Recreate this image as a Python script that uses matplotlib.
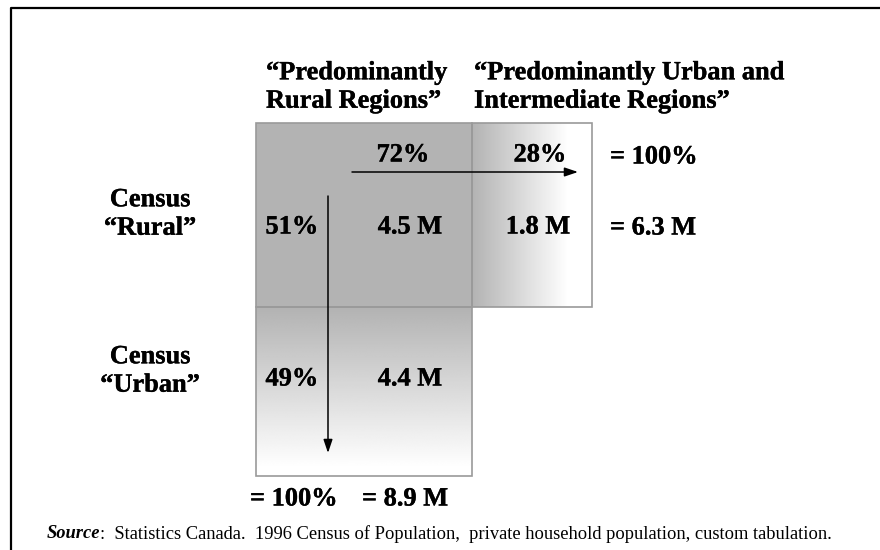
import numpy as np
import matplotlib
matplotlib.use('Agg')
from matplotlib import pyplot as plt
import matplotlib.patheffects as pe

# data
col_labels = ['\u201cPredominantly\nRural Regions\u201d',
              '\u201cPredominantly Urban and\nIntermediate Regions\u201d']
row_labels = ['Census\n\u201cRural\u201d', 'Census\n\u201cUrban\u201d']
population_m = [[4.5, 1.8], [4.4, None]]   # millions
rural_row_share = [72, 28]                 # % of census rural, by region type
rural_col_share = [51, 49]                 # % of predominantly rural regions, by census class
rural_row_total = 6.3
rural_col_total = 8.9
source_note = ('Statistics Canada.  1996 Census of Population,  '
               'private household population, custom tabulation.')

# layout in pixels (figure is 880 x 550)
col_edges = [256, 472, 592]
row_edges = [123, 307, 476]
GRAY = 0.70
FS = 19
heavy = [pe.withStroke(linewidth=0.25, foreground='black')]
font = dict(family='Liberation Serif', weight='bold', fontsize=FS, path_effects=heavy)

fig = plt.figure(figsize=(8.8, 5.5), dpi=100)
ax = fig.add_axes([0, 0, 1, 1])
ax.set_xlim(0, 880)
ax.set_ylim(550, 0)
ax.axis('off')

# frame
ax.plot([880, 11, 11], [8, 8, 550], color='black', lw=1.6, solid_capstyle='butt')

# cells
x0, x1, x2 = col_edges
y0, y1, y2 = row_edges
ax.add_patch(plt.Rectangle((x0, y0), x1 - x0, y1 - y0, facecolor=str(GRAY),
                           edgecolor='none', zorder=1))
h = np.clip(GRAY + (1 - GRAY) * np.linspace(0, 1, 256) / 0.8, 0, 1)
ax.imshow(h[None, :], cmap='gray', vmin=0, vmax=1, aspect='auto',
          extent=(x1, x2, y1, y0), zorder=1)
v = np.clip(GRAY + (1 - GRAY) * np.linspace(0, 1, 256) / 0.95, 0, 1)
ax.imshow(v[:, None], cmap='gray', vmin=0, vmax=1, aspect='auto',
          extent=(x0, x1, y2, y1), zorder=1)
border = dict(facecolor='none', edgecolor='#9a9a9a', lw=1.2, zorder=2)
ax.add_patch(plt.Rectangle((x0, y0), x1 - x0, y1 - y0, **border))
ax.add_patch(plt.Rectangle((x1, y0), x2 - x1, y1 - y0, **border))
ax.add_patch(plt.Rectangle((x0, y1), x1 - x0, y2 - y1, **border))

# column headers
ax.text(x0 + 10, 87, col_labels[0], ha='left', va='center', linespacing=1.3, **font)
ax.text(x1 + 2, 87, col_labels[1], ha='left', va='center', linespacing=1.3, **font)

# row headers
row_mid = [214, 371]
for lbl, ym in zip(row_labels, row_mid):
    ax.text(150, ym, lbl, ha='center', va='center', linespacing=1.3, **font)

# row shares (across the top row)
share_x = [403, 540]
for sx, s in zip(share_x, rural_row_share):
    ax.text(sx, 155, f'{s}%', ha='center', va='center', zorder=3, **font)
ax.text(610, 157, f'= {sum(rural_row_share)}%', ha='left', va='center', **font)

# column shares (down the first column)
cell_y = [227, 379]
for cy, s in zip(cell_y, rural_col_share):
    ax.text(292, cy, f'{s}%', ha='center', va='center', zorder=3, **font)
ax.text(250, 499, f'= {sum(rural_col_share)}%', ha='left', va='center', **font)

# populations
pop_x = [410, 538]
for cy, row in zip(cell_y, population_m):
    for px, val in zip(pop_x, row):
        if val is not None:
            ax.text(px, cy, f'{val} M', ha='center', va='center', zorder=3, **font)
ax.text(610, 228, f'= {rural_row_total} M', ha='left', va='center', **font)
ax.text(362, 499, f'= {rural_col_total} M', ha='left', va='center', **font)

# arrows
arrow = dict(arrowstyle='-|>,head_length=0.8,head_width=0.27', color='black',
             lw=1.1, shrinkA=0, shrinkB=0)
ax.annotate('', xy=(578, 172), xytext=(352, 172), arrowprops=arrow, zorder=4)
ax.annotate('', xy=(328, 453), xytext=(328, 196), arrowprops=arrow, zorder=4)

# source note
src = ax.text(47, 534, 'Source', ha='left', va='center', family='Liberation Serif',
              weight='bold', style='italic', fontsize=13.3)
fig.canvas.draw()
bb = src.get_window_extent().transformed(ax.transData.inverted())
ax.text(bb.x1, 534, ':  ' + source_note, ha='left', va='center',
        family='Liberation Serif', fontsize=13.3)

fig.savefig('out.png', dpi=100)
